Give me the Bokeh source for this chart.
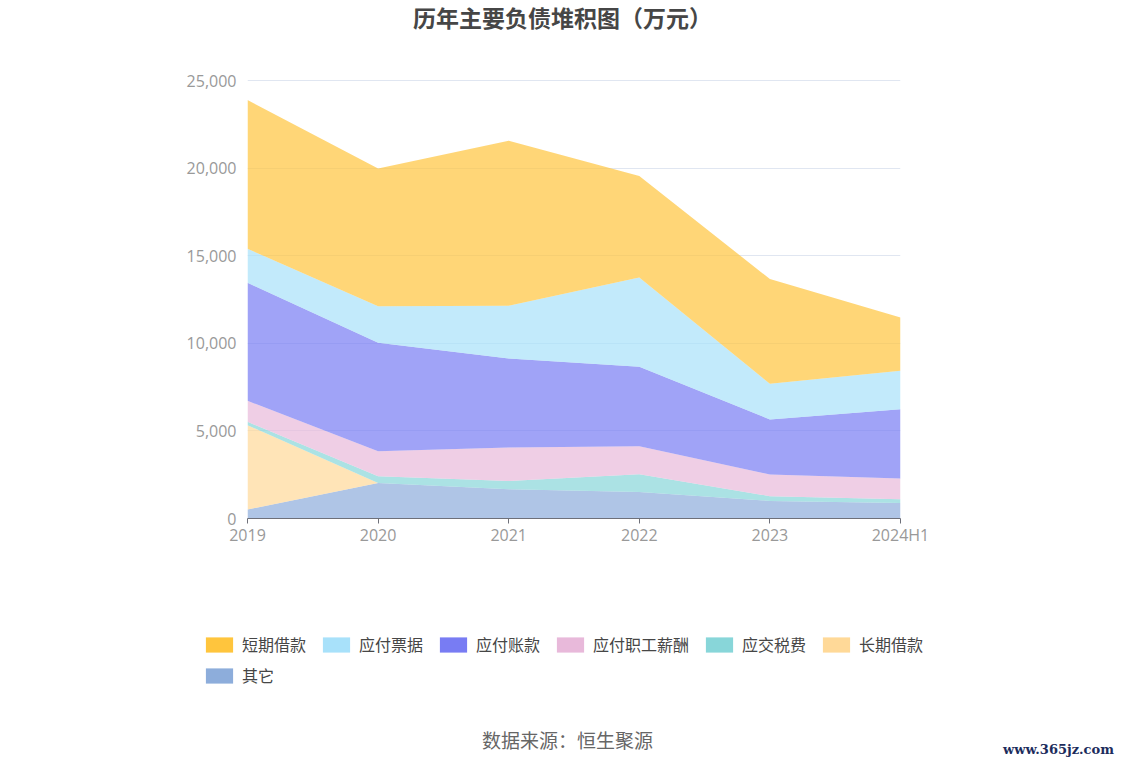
from bokeh.plotting import figure
from bokeh.layouts import column
from bokeh.models import (Range1d, FixedTicker, NumeralTickFormatter, Legend, LegendItem, Label)
from bokeh.embed import file_html
from bokeh.resources import INLINE

years = ["2019", "2020", "2021", "2022", "2023", "2024H1"]
short_loan = [8492, 7865, 9423, 5785, 5980, 3049]
notes_payable = [1942, 2095, 3005, 5106, 2033, 2188]
accounts_payable = [6739, 6186, 5082, 4529, 3141, 3958]
salary_payable = [1199, 1427, 1908, 1599, 1239, 1182]
tax_payable = [187, 383, 474, 1011, 269, 211]
long_loan = [4816, 0, 0, 0, 0, 0]
other = [514, 2030, 1673, 1519, 1005, 891]

names = ["其它", "长期借款", "应交税费", "应付职工薪酬", "应付账款", "应付票据", "短期借款"]
series = [other, long_loan, tax_payable, salary_payable, accounts_payable, notes_payable, short_loan]
colors = ["#8DADDB", "#FFD998", "#88D6D9", "#E8B9DA", "#787CF3", "#A8E1FA", "#FFC53D"]

CJK = "Noto Sans CJK SC"
W = 1118

def blank(height):
    f = figure(width=W, height=height, output_backend="svg", toolbar_location=None,
               x_range=Range1d(0, W), y_range=Range1d(0, height),
               x_axis_type=None, y_axis_type=None,
               min_border=0, min_border_left=0, min_border_right=0,
               min_border_top=0, min_border_bottom=0, frame_align=False)
    f.outline_line_color = None
    f.xgrid.visible = False
    f.ygrid.visible = False
    return f

# ---- title strip
top = blank(40)
top.add_layout(Label(x=562, y=24, text="历年主要负债堆积图（万元）", text_align="center",
                     text_baseline="middle", text_font=CJK, text_font_size="23px",
                     text_font_style="bold", text_color="#464646"))

# ---- main chart
p = figure(width=W, height=520, output_backend="svg", toolbar_location=None,
           x_range=Range1d(0, len(years) - 1), y_range=Range1d(0, 25060),
           min_border_left=247, min_border_right=W - 900, min_border_top=39, min_border_bottom=42,
           frame_align=False)
p.outline_line_color = None

xs = list(range(len(years)))
data = {"x": xs}
for n, s in zip(names, series):
    data[n] = s

p.varea_stack(stackers=names, x="x", color=colors, fill_alpha=0.7, source=data)

p.xaxis.ticker = FixedTicker(ticks=xs)
p.xaxis.major_label_overrides = {i: y for i, y in enumerate(years)}
p.xaxis.axis_line_color = "#6E7079"
p.xaxis.major_tick_line_color = "#6E7079"
p.xaxis.major_tick_out = 5
p.xaxis.major_tick_in = 0
p.xaxis.minor_tick_line_color = None
p.xaxis.major_label_text_color = "#999999"
p.xaxis.major_label_text_font = "Open Sans"
p.xaxis.major_label_text_font_size = "16px"
p.xaxis.major_label_standoff = 0

p.yaxis.ticker = FixedTicker(ticks=[0, 5000, 10000, 15000, 20000, 25000])
p.yaxis.formatter = NumeralTickFormatter(format="0,0")
p.yaxis.axis_line_color = None
p.yaxis.major_tick_line_color = None
p.yaxis.minor_tick_line_color = None
p.yaxis.major_label_text_color = "#999999"
p.yaxis.major_label_text_font = "Open Sans"
p.yaxis.major_label_text_font_size = "16px"
p.yaxis.major_label_standoff = 5

p.xgrid.grid_line_color = None
p.ygrid.grid_line_color = "#E0E6F1"

# ---- legend + source strip
bot = blank(200)
proxies = {}
for n, c in zip(names, colors):
    proxies[n] = bot.varea(x=[-100, -99], y1=[-100, -100], y2=[-99, -99],
                           fill_color=c, fill_alpha=1.0)

def make_legend(items, loc):
    return Legend(items=[LegendItem(label=n, renderers=[proxies[n]]) for n in items],
                  orientation="horizontal", location=loc,
                  glyph_width=34, glyph_height=19, label_standoff=6, spacing=13,
                  padding=0, margin=0, border_line_color=None, background_fill_alpha=0,
                  label_text_font=CJK, label_text_font_size="16px", label_text_color="#464646",
                  label_height=20)

bot.add_layout(make_legend(["短期借款", "应付票据", "应付账款", "应付职工薪酬", "应交税费", "长期借款"], (202, 104)), "center")
bot.add_layout(make_legend(["其它"], (202, 73)), "center")

bot.add_layout(Label(x=567, y=21, text="数据来源：恒生聚源", text_align="center",
                     text_baseline="middle", text_font=CJK, text_font_size="19px",
                     text_color="#666666"))
bot.add_layout(Label(x=1058, y=11, text="www.365jz.com", text_align="center",
                     text_baseline="middle", text_font="DejaVu Serif", text_font_size="13px",
                     text_font_style="bold", text_color="#1c2c5c"))

layout = column(top, p, bot, spacing=0)
open("out.html", "w").write(file_html(layout, INLINE))
